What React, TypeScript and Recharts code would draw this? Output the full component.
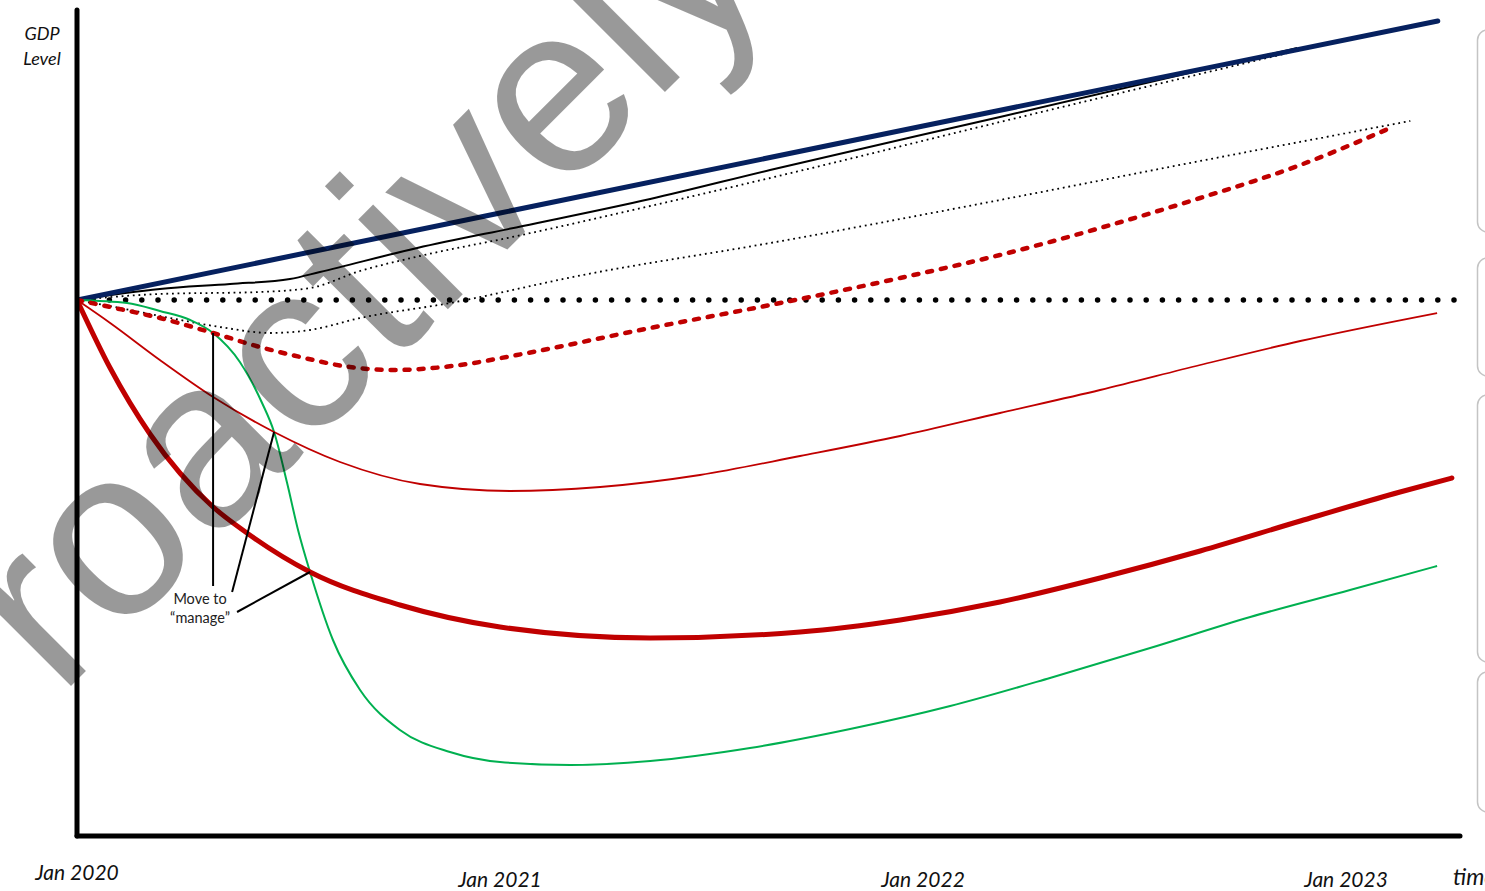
import React from "react";
import { LineChart, Line, XAxis, YAxis, ReferenceLine, ReferenceDot } from "recharts";

// x = months since Jan 2020, v = GDP level index (pre-crisis level = 100)
const navyTrend = [
  { m: 0, v: 100 }, { m: 12, v: 108.7 }, { m: 24, v: 117.4 }, { m: 38.6, v: 127.9 },
];
const blackSolid = [
  { m: 0, v: 100 }, { m: 2.35, v: 101.1 }, { m: 4.34, v: 101.6 }, { m: 6.04, v: 102.1 },
  { m: 6.89, v: 102.8 }, { m: 9.65, v: 105.2 }, { m: 12.65, v: 107.4 }, { m: 16.26, v: 110.1 },
  { m: 19.66, v: 113.0 }, { m: 26.18, v: 118.3 }, { m: 34.61, v: 125.2 },
];
const upperDotted = [
  { m: 0, v: 100 }, { m: 2.35, v: 100.6 }, { m: 5.19, v: 100.8 }, { m: 6.61, v: 101.2 },
  { m: 8.03, v: 102.9 }, { m: 9.73, v: 104.4 }, { m: 12.48, v: 106.4 }, { m: 16.26, v: 109.4 },
  { m: 19.66, v: 112.2 }, { m: 26.18, v: 117.8 }, { m: 34.7, v: 125.0 },
];
const lowerDotted = [
  { m: 0, v: 100 }, { m: 1.22, v: 99.2 }, { m: 2.64, v: 98.2 }, { m: 4.06, v: 97.3 },
  { m: 5.48, v: 96.7 }, { m: 6.61, v: 97.0 }, { m: 8.03, v: 98.2 }, { m: 10.58, v: 99.7 },
  { m: 14.35, v: 102.5 }, { m: 19.66, v: 105.7 }, { m: 26.18, v: 110.0 }, { m: 31.86, v: 113.9 },
  { m: 37.82, v: 117.9 },
];
const preCrisisLevel = [
  { m: 0, v: 100 }, { m: 39.23, v: 100 },
];
const redDashed = [
  { m: 0, v: 100 }, { m: 0.94, v: 99.3 }, { m: 2.35, v: 98.2 }, { m: 3.86, v: 96.7 },
  { m: 5.19, v: 95.3 }, { m: 6.33, v: 94.3 }, { m: 7.74, v: 93.3 }, { m: 8.96, v: 93.0 },
  { m: 10.87, v: 93.5 }, { m: 12.48, v: 94.5 }, { m: 16.26, v: 97.2 }, { m: 19.66, v: 99.5 },
  { m: 23.35, v: 102.2 }, { m: 26.18, v: 104.5 }, { m: 29.02, v: 107.2 }, { m: 31.86, v: 110.2 },
  { m: 34.7, v: 113.5 }, { m: 37.25, v: 117.2 },
];
const redThin = [
  { m: 0, v: 100 }, { m: 0.94, v: 97.7 }, { m: 2.35, v: 94.0 }, { m: 3.86, v: 90.3 },
  { m: 5.59, v: 86.8 }, { m: 7.46, v: 83.8 }, { m: 9.73, v: 81.6 }, { m: 12.28, v: 80.9 },
  { m: 14.84, v: 81.3 }, { m: 17.67, v: 82.5 }, { m: 20.51, v: 84.4 }, { m: 23.35, v: 86.4 },
  { m: 26.18, v: 88.7 }, { m: 29.02, v: 91.0 }, { m: 31.86, v: 93.5 }, { m: 34.7, v: 95.9 },
  { m: 38.58, v: 98.7 },
];
const redThick = [
  { m: 0, v: 100 }, { m: 0.94, v: 93.2 }, { m: 2.07, v: 86.6 },
  { m: 3.86, v: 79.3 }, { m: 4.82, v: 76.7 }, { m: 6.61, v: 72.8 },
  { m: 9.16, v: 69.5 }, { m: 12.0, v: 67.3 }, { m: 16.26, v: 66.2 }, { m: 20.51, v: 66.8 },
  { m: 23.35, v: 68.0 }, { m: 26.18, v: 69.8 }, { m: 29.02, v: 72.2 }, { m: 31.86, v: 74.9 },
  { m: 34.7, v: 77.9 }, { m: 37.53, v: 80.8 }, { m: 39.0, v: 82.2 },
];
const green = [
  { m: 0, v: 100 }, { m: 1.42, v: 99.7 }, { m: 2.35, v: 98.9 }, { m: 3.21, v: 98.0 },
  { m: 3.86, v: 96.7 }, { m: 4.62, v: 93.8 }, { m: 5.25, v: 89.7 }, { m: 5.59, v: 86.8 },
  { m: 5.96, v: 81.7 }, { m: 6.27, v: 77.0 }, { m: 6.61, v: 72.8 }, { m: 7.26, v: 66.0 },
  { m: 8.03, v: 61.0 }, { m: 9.16, v: 57.0 }, { m: 10.58, v: 54.8 }, { m: 12.0, v: 53.8 },
  { m: 13.99, v: 53.5 }, { m: 16.26, v: 53.9 }, { m: 19.09, v: 55.2 }, { m: 21.93, v: 57.1 },
  { m: 24.77, v: 59.4 }, { m: 27.6, v: 62.2 }, { m: 30.44, v: 65.2 }, { m: 33.28, v: 68.3 },
  { m: 36.11, v: 71.0 }, { m: 38.58, v: 73.4 },
];

const tickMonths = [0, 12, 24, 36];
const tickLabels = ["Jan 2020", "Jan 2021", "Jan 2022", "Jan 2023"];

// "Move to manage" pointers: from curve crossing to label
const pointerSegments = [
  [{ x: 3.86, y: 96.7 }, { x: 3.86, y: 71.4 }],
  [{ x: 5.59, y: 86.8 }, { x: 4.4, y: 70.8 }],
  [{ x: 6.61, y: 72.8 }, { x: 4.54, y: 68.8 }],
];
const noteAnchor = { m: 3.49, v: 70.1 };
const noteLines = ["Move to", "\u201Cmanage\u201D"];

const FONT = "Lato, 'Open Sans', sans-serif";

const Tick = (props: any) => {
  const { x, y, payload, index } = props;
  const i = tickMonths.indexOf(payload.value);
  return (
    <text
      x={x}
      y={y + (index === 0 ? 44 : 51)}
      textAnchor="middle"
      fontFamily={FONT}
      fontStyle="italic"
      fontSize={21}
      fill="#111"
    >
      {tickLabels[i >= 0 ? i : index]}
    </text>
  );
};

const Note = (props: any) => {
  const { cx, cy } = props;
  return (
    <g>
      {noteLines.map((t, k) => (
        <text
          key={k}
          x={cx}
          y={cy + 5 + k * 19}
          textAnchor="middle"
          fontFamily={FONT}
          fontSize={14.5}
          fill="#222"
        >
          {t}
        </text>
      ))}
    </g>
  );
};

const sideBoxes = [
  { y: 30, h: 202 },
  { y: 258, h: 118 },
  { y: 395, h: 267 },
  { y: 672, h: 140 },
];

export default function App() {
  return (
    <div
      style={{
        position: "absolute",
        left: 0,
        top: 0,
        width: 1485,
        height: 891,
        overflow: "hidden",
        background: "#fff",
      }}
    >
      <LineChart
        width={1485}
        height={891}
        margin={{ top: 10, right: 25, bottom: 10, left: 57 }}
      >
        <XAxis
          dataKey="m"
          type="number"
          domain={[0, 39.23]}
          ticks={tickMonths}
          interval={0}
          height={45}
          tickSize={0}
          tickMargin={0}
          tickLine={false}
          axisLine={{ stroke: "#000", strokeWidth: 5, strokeLinecap: "round" }}
          tick={<Tick />}
          allowDataOverflow
        />
        <YAxis
          type="number"
          domain={[46.4, 129]}
          width={20}
          tick={false}
          tickLine={false}
          axisLine={{ stroke: "#000", strokeWidth: 5, strokeLinecap: "round" }}
          allowDataOverflow
        />
        <Line data={preCrisisLevel} dataKey="v" type="linear" stroke="#000" strokeWidth={5.5}
          strokeDasharray="0 16.2" strokeLinecap="round" dot={false} activeDot={false} isAnimationActive={false} />
        <Line data={lowerDotted} dataKey="v" type="monotone" stroke="#000" strokeWidth={1.8}
          strokeDasharray="1.8 3.8" dot={false} activeDot={false} isAnimationActive={false} />
        <Line data={upperDotted} dataKey="v" type="monotone" stroke="#000" strokeWidth={1.8}
          strokeDasharray="1.8 3.8" dot={false} activeDot={false} isAnimationActive={false} />
        <Line data={blackSolid} dataKey="v" type="monotone" stroke="#000" strokeWidth={2}
          dot={false} activeDot={false} isAnimationActive={false} />
        <Line data={navyTrend} dataKey="v" type="linear" stroke="#06215F" strokeWidth={5}
          strokeLinecap="round" dot={false} activeDot={false} isAnimationActive={false} />
        <Line data={green} dataKey="v" type="monotone" stroke="#00B050" strokeWidth={2}
          dot={false} activeDot={false} isAnimationActive={false} />
        <Line data={redThin} dataKey="v" type="monotone" stroke="#C00000" strokeWidth={1.8}
          dot={false} activeDot={false} isAnimationActive={false} />
        <Line data={redThick} dataKey="v" type="monotone" stroke="#C00000" strokeWidth={5}
          strokeLinecap="round" dot={false} activeDot={false} isAnimationActive={false} />
        <Line data={redDashed} dataKey="v" type="monotone" stroke="#C00000" strokeWidth={4.5}
          strokeDasharray="5 9" strokeLinecap="round" dot={false} activeDot={false} isAnimationActive={false} />
        {pointerSegments.map((seg, i) => (
          <ReferenceLine key={i} segment={seg} stroke="#000" strokeWidth={2} ifOverflow="visible" />
        ))}
        <ReferenceDot x={noteAnchor.m} y={noteAnchor.v} r={0} ifOverflow="visible" shape={<Note />} />
      </LineChart>
      <svg
        width={1485}
        height={891}
        style={{ position: "absolute", left: 0, top: 0, pointerEvents: "none" }}
      >
        <text x={42} y={40} textAnchor="middle" fontFamily={FONT} fontStyle="italic" fontSize={18} fill="#111">GDP</text>
        <text x={42} y={65} textAnchor="middle" fontFamily={FONT} fontStyle="italic" fontSize={18} fill="#111">Level</text>
        <text x={1453} y={885} fontFamily={FONT} fontStyle="italic" fontSize={23} fill="#111">time</text>
        {sideBoxes.map((b, i) => (
          <rect key={i} x={1477.5} y={b.y} width={60} height={b.h} rx={10} ry={10}
            fill="#fff" stroke="#C4C4C4" strokeWidth={1.5} />
        ))}
        <text
          transform="translate(-54,811) rotate(-45)"
          fontFamily="'Liberation Sans', Arial, sans-serif"
          fontSize={240}
          fill="#000"
          fillOpacity={0.4}
        >
          Proactively
        </text>
      </svg>
    </div>
  );
}
